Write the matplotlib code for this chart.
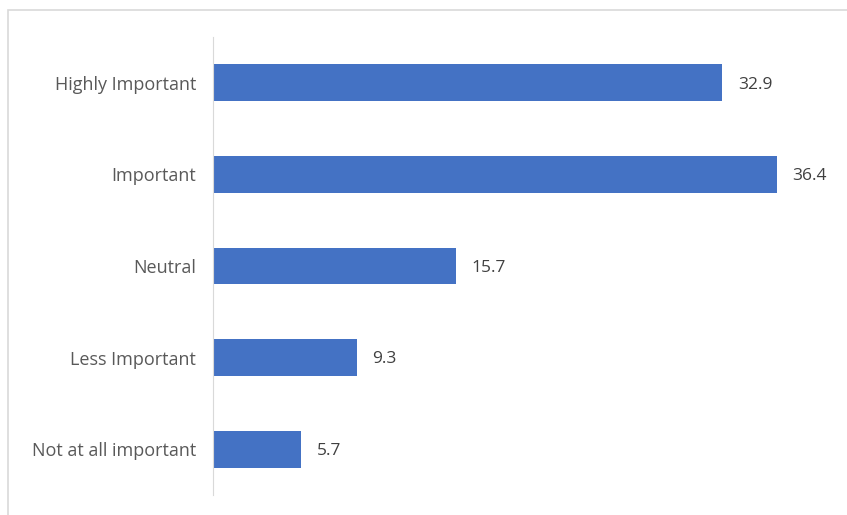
import matplotlib.pyplot as plt
from matplotlib.patches import Rectangle

categories = ["Highly Important", "Important", "Neutral", "Less Important", "Not at all important"]
values = [32.9, 36.4, 15.7, 9.3, 5.7]

plt.rcParams["font.family"] = ["Open Sans", "DejaVu Sans"]

fig = plt.figure(figsize=(8.47, 5.15), dpi=100)
# chart frame
fig.patches.append(Rectangle((8 / 847, -0.01), 1.0, 1 - 10 / 515 + 0.01, transform=fig.transFigure,
                             fill=False, edgecolor="#d9d9d9", lw=1.2))

ax = fig.add_axes([213 / 847, 20 / 515, 617 / 847, 458 / 515])
pos = list(range(len(categories)))
ax.barh(pos, values, height=0.4, color="#4472C4")
ax.set_ylim(len(categories) - 0.5, -0.5)
ax.set_xlim(0, 39.85)
ax.set_yticks(pos)
ax.set_yticklabels(categories, fontsize=13, color="#595959")
ax.tick_params(axis="y", length=0, pad=12)
ax.set_xticks([])
for s in ["top", "right", "bottom"]:
    ax.spines[s].set_visible(False)
ax.spines["left"].set_color("#d9d9d9")

for p, v in zip(pos, values):
    ax.text(v + 1.0, p + 0.02, f"{v}", va="center", ha="left", fontsize=12.5, color="#404040")

fig.savefig("out.png", dpi=100)
